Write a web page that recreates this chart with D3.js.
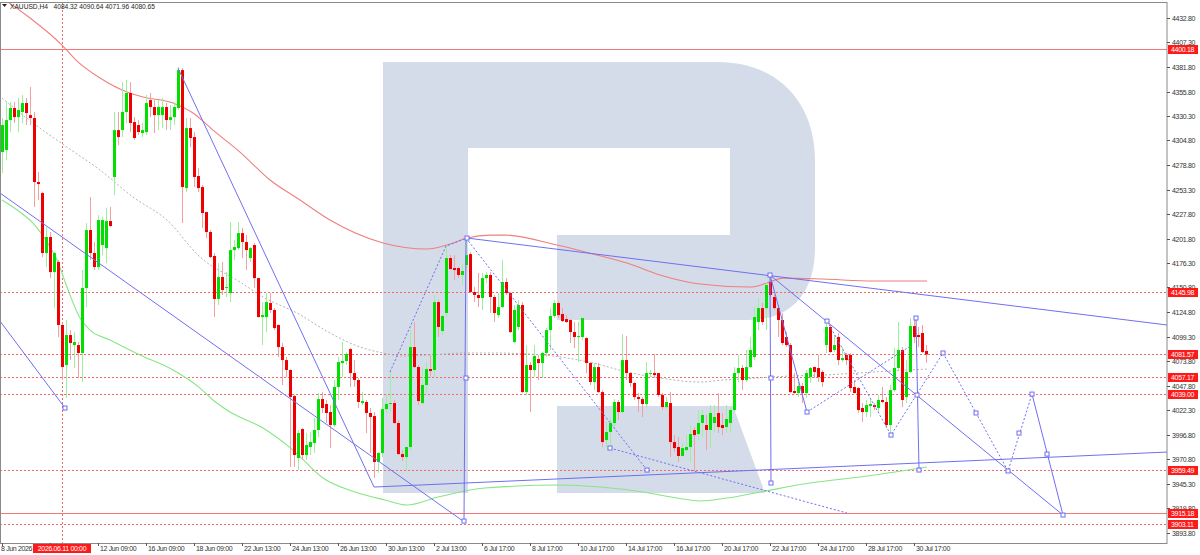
<!DOCTYPE html>
<html><head><meta charset="utf-8">
<script src="https://cdn.jsdelivr.net/npm/d3@7"></script>
<style>body{margin:0;background:#fff;overflow:hidden}svg{display:block}</style>
</head><body><svg id="c" width="1200" height="555"></svg>
<script>
// ---------- DATA ----------
const symbolTitle = "XAUUSD,H4";
const lastOHLC = ["4084.32","4090.64","4071.96","4080.65"];

const openP = [
4292.5,4294.6,4326.0,4338.6,4329.1,4334.4,4343.8,4331.2,4328.1,4261.1,
4249.6,4186.8,4203.6,4166.9,4177.4,4111.5,4069.6,4101.0,4090.5,4090.5,
4082.2,4150.2,4210.9,4186.8,4172.2,4195.2,4192.0,4220.3,4266.4,4315.5,
4315.5,4334.4,4354.3,4323.9,4320.8,4312.4,4313.4,4346.9,4339.6,4331.2,
4331.2,4339.6,4326.0,4329.1,4338.6,4378.3,4254.8,4317.6,4308.2,4267.4,
4255.9,4229.7,4208.8,4183.7,4138.7,4161.7,4150.2,4144.9,4189.9,4192.0,
4207.7,4198.3,4181.6,4195.2,4160.6,4119.8,4119.8,4134.5,4127.2,4111.5,
4088.4,4074.8,4064.4,4037.1,3972.3,4002.6,3975.4,3983.8,3988.0,4001.6,
4034.0,4028.8,4020.4,4006.8,4046.6,4071.7,4073.8,4086.3,4061.2,4053.9,
4029.8,4030.9,4019.4,4016.2,3968.1,3977.5,4023.5,4028.8,4029.8,4008.9,
3976.4,3973.3,3983.8,4088.4,4067.5,4029.8,4048.7,4065.4,4064.4,4135.5,
4105.2,4124.0,4181.6,4171.1,4171.1,4163.8,4174.3,4185.7,4146.0,4142.9,
4139.7,4160.6,4163.8,4140.8,4121.9,4130.3,4156.5,4144.9,4093.7,4109.4,
4132.4,4041.3,4069.6,4064.4,4075.9,4071.7,4082.2,4106.2,4120.9,4134.5,
4123.0,4117.7,4116.7,4104.1,4098.9,4098.9,4097.8,4071.7,4051.8,4067.5,
4041.3,3991.1,3999.5,4008.9,4030.9,4020.4,4074.8,4061.2,4050.8,4036.1,
4034.0,4028.8,4060.2,4061.2,4061.2,4038.2,4025.6,4029.8,3989.0,3983.8,
3974.4,3980.6,3983.8,4001.6,3997.4,4008.9,4006.8,4001.6,4008.9,4019.4,
4006.8,4004.7,4008.9,4022.5,4061.2,4066.5,4053.9,4067.5,4078.0,4114.6,
4129.2,4129.2,4156.5,4140.8,4129.2,4116.7,4098.9,4090.5,4042.4,4040.3,
4047.6,4040.3,4057.0,4067.5,4066.5,4062.3,4090.5,4109.4,4085.3,4098.9,
4074.8,4080.1,4080.1,4046.6,4045.5,4024.6,4020.4,4026.7,4027.7,4024.6,
4033.0,4030.9,4006.8,4043.4,4066.5,4085.3,4036.1,4062.3,4110.4,4101.0,
4103.1,4084.32];
const highP = [
4328.1,4344.8,4344.8,4344.8,4349.0,4352.2,4349.0,4360.5,4334.4,4271.6,
4251.0,4214.0,4208.8,4188.0,4179.5,4113.5,4116.7,4106.2,4104.1,4093.7,
4169.0,4218.2,4245.4,4198.3,4226.6,4224.5,4233.9,4235.0,4334.4,4334.4,
4365.8,4367.9,4365.8,4329.1,4326.0,4322.9,4352.2,4354.3,4346.9,4346.9,
4349.0,4343.8,4341.7,4344.8,4381.5,4380.4,4328.1,4328.1,4313.4,4275.8,
4258.0,4230.0,4210.9,4186.8,4176.3,4177.4,4166.9,4219.3,4200.4,4219.3,
4213.0,4205.6,4193.0,4197.3,4161.0,4135.5,4144.9,4144.9,4129.2,4112.0,
4092.6,4078.0,4065.0,4038.2,4001.6,4003.7,3998.4,3999.5,4014.1,4040.3,
4041.3,4033.0,4027.7,4053.9,4078.0,4093.7,4083.2,4087.4,4074.8,4056.0,
4041.3,4033.0,4024.6,4020.4,3978.5,4035.1,4038.2,4062.3,4033.0,4012.0,
3980.6,3984.0,4106.2,4114.6,4069.6,4067.5,4072.7,4080.1,4142.9,4137.6,
4121.9,4193.1,4184.7,4184.7,4172.2,4176.3,4202.5,4187.8,4151.2,4165.9,
4165.9,4166.9,4166.9,4142.9,4144.9,4179.5,4160.6,4146.0,4132.4,4137.6,
4135.5,4090.5,4072.7,4090.5,4080.1,4083.2,4108.3,4129.2,4137.6,4136.6,
4129.2,4121.9,4117.7,4114.6,4114.6,4119.0,4098.9,4072.7,4071.7,4071.7,
4043.4,4009.9,4014.1,4034.0,4033.0,4102.0,4099.9,4062.3,4051.8,4040.3,
4036.1,4072.7,4064.4,4081.1,4061.5,4040.3,4036.1,4041.3,3996.3,3994.2,
3988.0,3996.3,4006.8,4004.7,4022.5,4022.5,4017.3,4027.7,4027.7,4040.3,
4019.4,4027.7,4024.6,4067.5,4080.1,4069.6,4085.3,4098.9,4130.3,4139.7,
4134.5,4156.5,4163.8,4142.9,4132.4,4124.0,4104.1,4092.6,4061.2,4051.8,
4050.8,4064.4,4067.5,4068.0,4080.1,4064.4,4116.7,4111.5,4101.0,4103.1,
4088.4,4082.2,4082.2,4053.9,4046.6,4029.8,4033.0,4035.1,4029.8,4038.2,
4046.6,4036.1,4048.7,4087.4,4114.6,4088.4,4074.8,4118.8,4119.8,4109.4,
4111.5,4090.64];
const lowP = [
4270.5,4284.1,4313.4,4322.9,4313.4,4322.9,4320.8,4320.8,4235.0,4242.3,
4182.6,4172.2,4160.6,4129.2,4098.9,4053.9,4035.1,4074.8,4066.5,4056.0,
4051.8,4130.3,4179.5,4169.0,4169.0,4184.7,4176.3,4214.0,4247.5,4299.8,
4308.2,4322.9,4313.4,4305.1,4310.3,4308.2,4310.3,4329.1,4312.4,4315.5,
4317.6,4315.5,4315.5,4320.8,4336.5,4218.2,4250.7,4297.7,4255.9,4250.7,
4213.0,4202.5,4181.6,4119.8,4132.4,4142.9,4140.8,4135.5,4179.5,4189.9,
4181.6,4169.0,4177.4,4150.2,4119.5,4090.5,4104.1,4124.0,4106.2,4078.0,
4048.7,4057.0,3962.8,3962.8,3959.7,3970.2,3970.2,3975.4,3977.5,3994.2,
4019.4,4008.9,3982.7,4004.7,4033.0,4057.0,4069.6,4046.6,4046.6,4024.6,
4027.7,3998.4,3977.5,3951.3,3956.6,3973.3,4019.4,4020.4,4008.0,3975.5,
3969.1,3959.7,3980.6,4066.5,4027.7,4027.7,4040.3,4057.0,4057.0,4098.9,
4101.0,4119.8,4169.0,4158.6,4160.6,4153.3,4169.0,4144.9,4135.5,4130.3,
4127.2,4155.4,4124.0,4114.6,4118.8,4129.2,4142.9,4103.1,4092.6,4106.2,
4040.3,4038.2,4020.4,4057.0,4053.9,4056.0,4078.0,4085.3,4118.8,4118.8,
4114.6,4113.5,4092.6,4087.4,4072.7,4095.8,4061.2,4048.7,4043.4,4040.3,
3983.8,3983.8,3982.7,4003.7,4012.0,4019.4,4053.9,4046.6,4033.0,4020.4,
4015.2,4025.6,4057.0,4057.0,4036.1,4022.5,4022.5,3973.3,3978.5,3968.1,
3973.3,3978.5,3968.1,3958.7,3991.1,3994.2,3980.6,3982.7,3999.5,3998.4,
3996.3,3998.4,3999.5,4020.4,4051.8,4043.4,4051.8,4066.5,4074.8,4106.2,
4111.5,4106.2,4140.8,4127.2,4098.9,4090.5,4088.4,4040.3,4039.5,4036.1,
4029.8,4035.1,4050.8,4056.0,4051.8,4046.6,4082.2,4082.2,4083.2,4069.6,
4072.7,4069.6,4041.3,4039.5,4019.4,4009.9,4015.2,4015.2,4022.5,4020.4,
4029.8,4003.7,3996.3,4041.3,4064.4,4025.6,4029.8,4061.2,4092.6,4088.4,
4082.2,4071.96];
const closeP = [
4320.8,4326.0,4338.6,4329.1,4336.5,4343.8,4333.3,4328.1,4261.1,4259.0,
4186.8,4203.6,4166.9,4186.8,4111.5,4067.5,4101.0,4092.6,4093.7,4082.2,
4150.2,4210.9,4186.8,4172.2,4221.3,4221.3,4220.3,4215.1,4315.5,4308.2,
4334.4,4354.3,4322.9,4307.2,4313.4,4315.5,4343.8,4339.6,4331.2,4339.6,
4339.6,4326.0,4329.1,4339.6,4378.3,4255.9,4317.6,4307.2,4266.4,4254.8,
4228.7,4208.8,4182.6,4138.7,4161.7,4148.1,4151.2,4189.9,4193.1,4207.7,
4198.3,4189.9,4192.0,4160.6,4119.8,4121.9,4135.5,4127.2,4108.3,4088.4,
4074.8,4064.4,4036.1,3975.4,3998.4,3975.4,3985.9,3989.0,4001.6,4034.0,
4024.6,4019.4,4006.8,4046.6,4072.7,4073.8,4081.1,4061.2,4053.9,4030.9,
4031.9,4019.4,4015.2,3968.1,3977.5,4023.5,4028.8,4029.8,4008.9,3976.4,
3973.3,3983.8,4088.4,4067.5,4031.9,4048.7,4065.4,4063.3,4135.5,4109.4,
4120.9,4181.6,4170.1,4169.0,4163.8,4168.0,4184.7,4146.0,4142.9,4139.7,
4160.6,4163.8,4140.8,4124.0,4130.3,4156.5,4144.9,4104.1,4127.2,4132.4,
4041.3,4069.6,4064.4,4079.0,4071.7,4082.2,4106.2,4120.9,4134.5,4121.9,
4115.6,4114.6,4104.1,4098.9,4099.9,4118.8,4071.7,4051.8,4067.5,4041.3,
3989.0,3999.5,4008.9,4030.9,4020.4,4074.8,4061.2,4050.8,4036.1,4034.0,
4028.8,4061.2,4061.2,4059.1,4038.2,4025.6,4030.9,3989.0,3982.7,3974.4,
3982.7,3983.8,3997.4,3996.3,4008.9,4017.3,4001.6,4019.4,4015.2,4004.7,
4003.7,4013.1,4022.5,4061.2,4066.5,4053.9,4067.5,4085.3,4119.8,4129.2,
4114.6,4153.3,4142.9,4129.2,4116.7,4092.6,4090.5,4041.3,4040.3,4047.6,
4040.3,4061.2,4066.5,4062.3,4057.0,4051.8,4109.4,4083.2,4090.5,4074.8,
4076.9,4074.8,4045.5,4040.3,4022.5,4020.4,4027.7,4028.8,4025.6,4033.0,
4030.9,4006.8,4043.4,4066.5,4085.3,4033.0,4062.3,4110.4,4098.9,4098.9,
4083.2,4080.65];

// moving averages sampled at bar positions [barIndex, price]
const maSlow = [[1.5,4449.5],[7,4432.8],[15,4404.5],[18.5,4388.8],[24.5,4370.0],[31.25,4355.3],[35.25,4350.1],[42.75,4343.8],[47.75,4333.3],[52.75,4315.5],[59.5,4292.5],[67,4263.2],[74.5,4242.3],[82,4221.3],[95.25,4197.3],[106.25,4191.0],[111.25,4195.2],[116.25,4202.5],[122,4205.6],[125.75,4205.6],[138.75,4195.2],[147.75,4185.8],[156.25,4176.3],[164.5,4163.8],[174.5,4154.4],[187,4151.2],[191.25,4155.4],[195.25,4160.6],[205.25,4159.6],[217.75,4157.5],[231.25,4157.5]];
const maMid = [[0,4349.0],[7.75,4322.9],[16.25,4297.7],[24.5,4273.7],[32.75,4245.4],[41.25,4221.3],[49.5,4182.6],[59.5,4156.5],[65.25,4140.8],[73.75,4124.0],[82,4103.1],[90.25,4087.4],[95.25,4082.2],[100.25,4079.0],[107,4080.1],[115.25,4082.2],[122.75,4082.2],[135.25,4080.1],[147.75,4071.7],[156.25,4062.3],[164.5,4056.0],[174.5,4051.8],[180.25,4053.9],[188.75,4056.0],[197,4058.1],[205.25,4059.1],[213.75,4061.2],[222,4063.3],[231.25,4065.4]];
const maFast = [[0,4242.3],[4.5,4229.7],[7.75,4218.2],[11.25,4198.3],[13.75,4179.5],[16.25,4151.2],[19.5,4118.8],[22,4106.2],[27,4095.8],[34.5,4080.1],[42.75,4064.4],[49.5,4045.5],[52.75,4033.0],[57,4020.4],[65.25,4003.7],[72.75,3980.6],[80.25,3951.3],[88.25,3936.7],[95.75,3928.3],[101.25,3923.1],[109,3931.4],[120.75,3940.9],[139.5,3944.0],[149.5,3941.9],[160.25,3936.7],[168.75,3930.4],[174.5,3927.3],[181.25,3930.4],[189.5,3936.7],[202,3946.1],[214.5,3952.4],[231.25,3962.8]];

// horizontal levels
const solidLevels = [4400.18, 3915.18];
const dottedLevels = [4145.98, 4081.57, 4057.17, 4039.00, 3959.49, 3903.11];
// vertical marker
const vLineBar = 15;
const vLineLabel = "2026.06.11 00:00";

// trend lines [barIndex, price]
const solidTrends = [
  [[-0.5,4249.6],[115.25,3906.3]],
  [[-0.5,4115.6],[15.75,4024.6]],
  [[44,4380.4],[93,3941.9]],
  [[93,3941.9],[291.25,3978.5]],
  [[116.25,4202.5],[291.25,4111.5]],
  [[116,4202.5],[115.5,3906.3]],
  [[192,4163.8],[192.25,3946.1]],
  [[192,4163.8],[265.25,3912.6]],
  [[192,4163.8],[201.25,4020.4]],
  [[228.5,4118.8],[229.25,3959.7]],
  [[257.5,4039.2],[265.25,3912.6]]
];
const dottedTrends = [
  [[97,4062.3],[111,4194.1],[116.25,4202.5]],
  [[116,4202.5],[161.25,3959.7]],
  [[152,3982.7],[211.25,3914.7]],
  [[201.25,4020.4],[227.5,4090.5]],
  [[206.25,4115.6],[222.25,3996.3],[235.25,4082.2],[251.5,3958.7],[257.5,4039.2]]
];
const anchorPts = [[15.75,4024.6],[116.25,4202.5],[116,4056.0],[115.5,3906.3],[152,3982.7],[161.25,3959.7],[192,4163.8],[192.25,4056.0],[192.25,3946.1],[201.25,4020.4],[206.25,4115.6],[222.25,3996.3],[228.5,4118.8],[228.75,4038.2],[229.25,3959.7],[235.25,4082.2],[243.5,4019.4],[251.5,3958.7],[254.25,3998.4],[257.5,4039.2],[261.25,3976.4],[265.25,3912.6]];

// axes
const priceTicks = [4432.80,4407.30,4381.80,4355.80,4330.30,4304.80,4278.80,4253.30,4227.80,4201.80,4176.30,4150.80,4124.80,4099.30,4073.80,4047.80,4022.30,3996.80,3970.80,3945.30,3919.80,3893.80];
const timeTickBars = [0,12,24,36,48,60,72,84,96,108,120,132,144,156,168,180,192,204,216,228];
const timeTickLabels = ["8 Jun 2026","","12 Jun 09:00","16 Jun 09:00","18 Jun 09:00","22 Jun 13:00","24 Jun 13:00","26 Jun 13:00","30 Jun 13:00","2 Jul 13:00","6 Jul 17:00","8 Jul 17:00","10 Jul 17:00","14 Jul 17:00","16 Jul 17:00","20 Jul 17:00","22 Jul 17:00","24 Jul 17:00","28 Jul 17:00","30 Jul 17:00"];

// ---------- DRAW ----------
const svg = d3.select("#c");
const L = 0, T = 2, R = 1167, B = 543;
const x = d3.scaleLinear().domain([0, 291.25]).range([2, 1167]);
const y = d3.scaleLinear().domain([3893.8, 4432.8]).range([533, 18]);
const FONT = "'Liberation Sans', Arial, sans-serif";

svg.append("rect").attr("width",1200).attr("height",555).attr("fill","#fff");
svg.append("defs").append("clipPath").attr("id","pc")
  .append("rect").attr("x",L).attr("y",T).attr("width",R-L).attr("height",B-T);
const plot = svg.append("g").attr("clip-path","url(#pc)");

// watermark logo
const wm = plot.append("g").attr("fill","#d3dce8");
wm.append("rect").attr("x",383).attr("y",62).attr("width",85).attr("height",431);
wm.append("path").attr("d","M468,62 H718 C777,62 815,102 815,160 V248 C815,292 792,320 748,320 H557 V235 H730 V148 H468 Z");
wm.append("path").attr("d","M557,406 H733 L765,493 H557 Z");

// levels
dottedLevels.forEach(v=>{
  plot.append("line").attr("x1",L).attr("x2",R).attr("y1",Math.round(y(v))+0.5).attr("y2",Math.round(y(v))+0.5)
   .attr("stroke","#f06a6a").attr("stroke-width",1).attr("stroke-dasharray","2,2");
});
solidLevels.forEach(v=>{
  plot.append("line").attr("x1",L).attr("x2",R).attr("y1",Math.round(y(v))+0.5).attr("y2",Math.round(y(v))+0.5)
   .attr("stroke","#f07878").attr("stroke-width",1);
});
plot.append("line").attr("x1",Math.round(x(vLineBar))+0.5).attr("x2",Math.round(x(vLineBar))+0.5).attr("y1",T).attr("y2",B)
  .attr("stroke","#f06a6a").attr("stroke-dasharray","2,2");

// moving averages
const ln = d3.line().x(d=>x(d[0])).y(d=>y(d[1])).curve(d3.curveMonotoneX);
plot.append("path").attr("d",ln(maMid)).attr("fill","none").attr("stroke","#b4b4b4").attr("stroke-dasharray","2,2");
plot.append("path").attr("d",ln(maSlow)).attr("fill","none").attr("stroke","#f07f7f").attr("stroke-width",1.1);
plot.append("path").attr("d",ln(maFast)).attr("fill","none").attr("stroke","#86e686").attr("stroke-width",1.1);

// candles
const candles = plot.append("g");
openP.forEach((o,i)=>{
  const c = closeP[i], up = c >= o;
  const cx = Math.round(x(i));
  candles.append("line").attr("x1",cx+0.5).attr("x2",cx+0.5).attr("y1",y(highP[i])).attr("y2",y(lowP[i]))
    .attr("stroke", up ? "#9cf09c" : "#f5a0a0").attr("stroke-width",1);
  const top = y(Math.max(o,c)), bot = y(Math.min(o,c));
  candles.append("rect").attr("x",cx-1).attr("y",top).attr("width",3).attr("height",Math.max(1,bot-top))
    .attr("fill", up ? "#00e000" : "#ee0000");
});

// trend lines
const tl = d3.line().x(d=>x(d[0])).y(d=>y(d[1]));
solidTrends.forEach(s=>plot.append("path").attr("d",tl(s)).attr("fill","none").attr("stroke","#6f6ff0").attr("stroke-width",1));
dottedTrends.forEach(s=>plot.append("path").attr("d",tl(s)).attr("fill","none").attr("stroke","#6f6ff0").attr("stroke-width",1).attr("stroke-dasharray","2,2"));
anchorPts.forEach(p=>plot.append("rect").attr("x",x(p[0])-2).attr("y",y(p[1])-2).attr("width",4).attr("height",4)
  .attr("fill","#fff").attr("stroke","#6f6ff0").attr("stroke-width",1));

// header (single text line)
const hdr = svg.append("g").attr("font-family",FONT).attr("font-size",7).attr("fill","#222");
hdr.append("path").attr("d","M2,4 L7,4 L4.5,7 Z").attr("fill","#222");
hdr.append("text").attr("x",10).attr("y",8.5).attr("textLength",145).attr("lengthAdjust","spacingAndGlyphs")
  .attr("xml:space","preserve").text(symbolTitle + "   " + lastOHLC.join(" "));

// frame
svg.append("rect").attr("x",0.5).attr("y",T+0.5).attr("width",R-0.5).attr("height",B-T).attr("fill","none").attr("stroke","#8a8a8a");

// price axis
const pa = svg.append("g").attr("font-family",FONT).attr("font-size",7).attr("fill","#333").attr("letter-spacing","-0.3");
priceTicks.forEach(v=>{
  const yy = Math.round(y(v))+0.5;
  pa.append("line").attr("x1",R).attr("x2",R+3).attr("y1",yy).attr("y2",yy).attr("stroke","#555");
  pa.append("text").attr("x",R+5).attr("y",yy+2.5).text(v.toFixed(2));
});
solidLevels.concat(dottedLevels).forEach(v=>{
  const yy = Math.round(y(v))+0.5;
  pa.append("rect").attr("x",R+1).attr("y",yy-4.5).attr("width",30).attr("height",9).attr("fill","#ff1a1a");
  pa.append("text").attr("x",R+4).attr("y",yy+2.5).attr("fill","#fff").text(v.toFixed(2));
});

// time axis
const ta = svg.append("g").attr("font-family",FONT).attr("font-size",7).attr("fill","#333").attr("letter-spacing","-0.35");
timeTickBars.forEach((b,k)=>{
  const xx = Math.round(x(b))+0.5;
  ta.append("line").attr("x1",xx).attr("x2",xx).attr("y1",B).attr("y2",B+3).attr("stroke","#555");
  if (timeTickLabels[k]) ta.append("text").attr("x",b===0?1:xx+1.5).attr("y",551).text(timeTickLabels[k]);
});
const vx = Math.round(x(vLineBar));
ta.append("rect").attr("x",vx-29).attr("y",544).attr("width",58).attr("height",9).attr("fill","#ff1a1a");
ta.append("text").attr("x",vx).attr("y",551).attr("text-anchor","middle").attr("fill","#fff").text(vLineLabel);
</script>
</body></html>
